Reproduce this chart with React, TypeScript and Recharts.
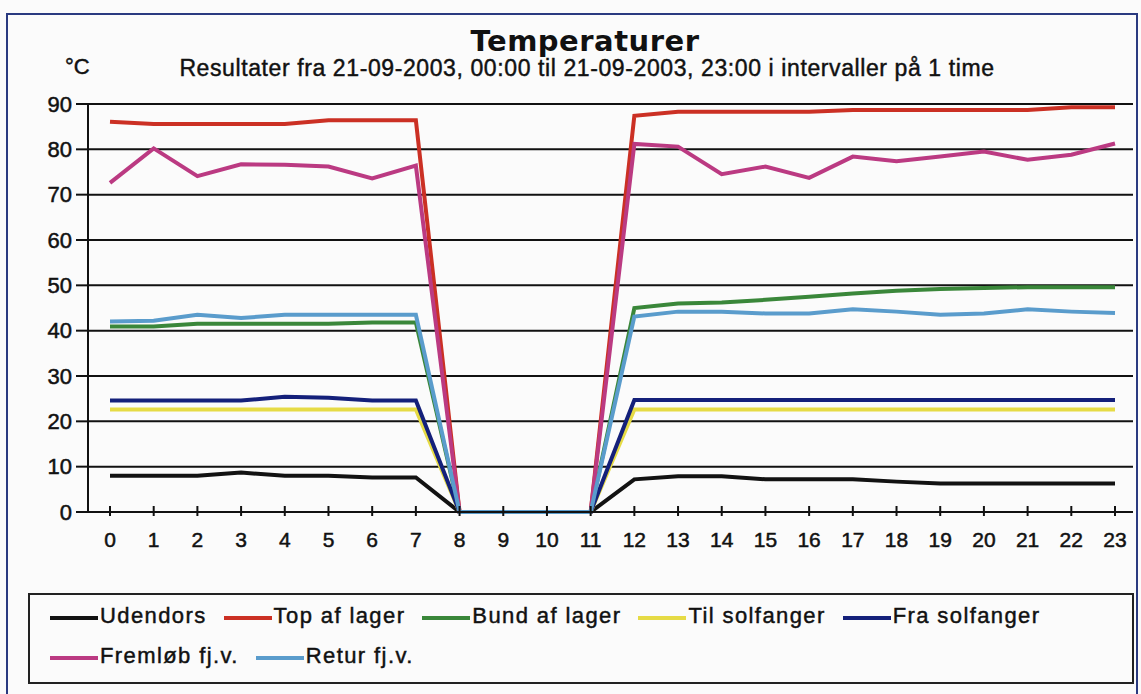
import React from 'react';
import { LineChart, Line, XAxis, YAxis, CartesianGrid } from 'recharts';

const hours = ['0','1','2','3','4','5','6','7','8','9','10','11','12','13','14','15','16','17','18','19','20','21','22','23'];

const udendors = [8, 8, 8, 8.7, 8, 8, 7.6, 7.6, 0, 0, 0, 0, 7.2, 7.9, 7.9, 7.2, 7.2, 7.2, 6.7, 6.3, 6.3, 6.3, 6.3, 6.3];
const topAfLager = [86.1, 85.6, 85.6, 85.6, 85.6, 86.4, 86.4, 86.4, 0, 0, 0, 0, 87.4, 88.3, 88.3, 88.3, 88.3, 88.7, 88.7, 88.7, 88.7, 88.7, 89.3, 89.3];
const bundAfLager = [40.9, 40.9, 41.5, 41.5, 41.5, 41.5, 41.8, 41.8, 0, 0, 0, 0, 45, 46, 46.2, 46.8, 47.5, 48.2, 48.8, 49.2, 49.4, 49.6, 49.6, 49.6];
const tilSolfanger = [22.6, 22.6, 22.6, 22.6, 22.6, 22.6, 22.6, 22.6, 0, 0, 0, 0, 22.6, 22.6, 22.6, 22.6, 22.6, 22.6, 22.6, 22.6, 22.6, 22.6, 22.6, 22.6];
const fraSolfanger = [24.6, 24.6, 24.6, 24.6, 25.4, 25.2, 24.6, 24.6, 0, 0, 0, 0, 24.7, 24.7, 24.7, 24.7, 24.7, 24.7, 24.7, 24.7, 24.7, 24.7, 24.7, 24.7];
const fremloeb = [72.6, 80.2, 74.1, 76.7, 76.6, 76.2, 73.6, 76.4, 0, 0, 0, 0, 81.2, 80.6, 74.5, 76.2, 73.7, 78.4, 77.4, 78.4, 79.5, 77.7, 78.8, 81.3];
const retur = [42, 42.2, 43.5, 42.8, 43.5, 43.5, 43.5, 43.5, 0, 0, 0, 0, 43.1, 44.2, 44.2, 43.8, 43.8, 44.7, 44.2, 43.5, 43.8, 44.7, 44.2, 43.9];

const yTicks = [0, 10, 20, 30, 40, 50, 60, 70, 80, 90];

const seriesNames = ['Udendors', 'Top af lager', 'Bund af lager', 'Til solfanger', 'Fra solfanger', 'Fremløb fj.v.', 'Retur fj.v.'];
const seriesKeys = ['udendors', 'top', 'bund', 'til', 'fra', 'frem', 'retur'];
const seriesColors = ['#121212', '#cb3024', '#3a873a', '#e6db45', '#14207a', '#bb3a82', '#5a9ccc'];
const seriesValues = [udendors, topAfLager, bundAfLager, tilSolfanger, fraSolfanger, fremloeb, retur];

const titleText = 'Temperaturer';
const subtitleText = 'Resultater fra 21-09-2003, 00:00 til 21-09-2003, 23:00 i intervaller på 1 time';
const unitText = '°C';

const data = hours.map((h, i) => {
  const row: Record<string, string | number> = { hour: h };
  seriesKeys.forEach((k, j) => {
    row[k] = seriesValues[j][i];
  });
  return row;
});

const FONT = '"Liberation Sans", Arial, sans-serif';

const XTick = (props: any) => {
  const { x, y, payload } = props;
  return (
    <g>
      <line x1={x} x2={x} y1={y - 26} y2={y - 16} stroke="#111" strokeWidth={2} />
      <text x={x} y={y} dy="0.71em" textAnchor="middle" fontSize={21} fill="#111" stroke="#111" strokeWidth={0.5} fontFamily={FONT}>
        {payload.value}
      </text>
    </g>
  );
};

const YTick = (props: any) => {
  const { x, y, payload } = props;
  return (
    <text x={x} y={y} dy="0.355em" textAnchor="end" fontSize={22} fill="#111" stroke="#111" strokeWidth={0.5} fontFamily={FONT}>
      {payload.value}
    </text>
  );
};

const textStroke = { WebkitTextStroke: '0.45px #111' } as React.CSSProperties;

export default function App() {
  return (
    <div
      style={{
        position: 'absolute',
        left: 0,
        top: 0,
        width: 1141,
        height: 694,
        overflow: 'hidden',
        background: '#fbfbfb',
        fontFamily: FONT,
      }}
    >
      <div
        style={{
          position: 'absolute',
          left: 6,
          top: 13,
          width: 1132,
          height: 700,
          borderLeft: '2px solid #2a3a80',
          borderTop: '2px solid #2a3a80',
          borderRight: '2px solid #2a3a80',
          boxSizing: 'border-box',
        }}
      />
      <div style={{ position: 'absolute', left: 0, top: 0 }}>
        <LineChart width={1141} height={694} data={data} margin={{ top: 104, right: 8, bottom: 132, left: 28 }}>
          <CartesianGrid vertical={false} stroke="#111" strokeWidth={2} />
          <XAxis
            dataKey="hour"
            interval={0}
            padding={{ left: 22, right: 18 }}
            height={50}
            tickSize={6}
            tickMargin={14}
            tickLine={false}
            axisLine={{ stroke: '#111', strokeWidth: 2 }}
            tick={<XTick />}
          />
          <YAxis
            domain={[0, 90]}
            ticks={yTicks}
            width={60}
            tickSize={12}
            tickMargin={4}
            axisLine={{ stroke: '#111', strokeWidth: 2 }}
            tickLine={{ stroke: '#111', strokeWidth: 2 }}
            tick={<YTick />}
          />
          <YAxis
            yAxisId="r"
            orientation="right"
            domain={[0, 90]}
            width={0}
            tick={false}
            tickLine={false}
            axisLine={{ stroke: '#111', strokeWidth: 2 }}
          />
          {seriesKeys.map((k, j) => (
            <Line
              key={k}
              type="linear"
              dataKey={k}
              name={seriesNames[j]}
              stroke={seriesColors[j]}
              strokeWidth={4}
              dot={false}
              activeDot={false}
              isAnimationActive={false}
            />
          ))}
        </LineChart>
      </div>
      <div
        style={{
          position: 'absolute',
          left: 585,
          top: 27,
          transform: 'translateX(-50%)',
          fontFamily: '"DejaVu Sans", sans-serif',
          fontWeight: 'bold',
          fontSize: 29,
          lineHeight: '29px',
          whiteSpace: 'nowrap',
          color: '#111',
          letterSpacing: 0.5,
        }}
      >
        {titleText}
      </div>
      <div
        style={{
          position: 'absolute',
          left: 587,
          top: 57,
          transform: 'translateX(-50%)',
          fontSize: 23,
          lineHeight: '23px',
          whiteSpace: 'nowrap',
          color: '#111',
          letterSpacing: 0.6,
          ...textStroke,
        }}
      >
        {subtitleText}
      </div>
      <div
        style={{
          position: 'absolute',
          left: 65,
          top: 56,
          fontSize: 22,
          lineHeight: '22px',
          whiteSpace: 'nowrap',
          color: '#111',
          ...textStroke,
        }}
      >
        {unitText}
      </div>
      <div
        style={{
          position: 'absolute',
          left: 28,
          top: 593,
          width: 1106,
          height: 91,
          border: '2px solid #222',
          boxSizing: 'border-box',
          paddingLeft: 20,
          paddingTop: 1,
          display: 'flex',
          flexWrap: 'wrap',
          alignContent: 'flex-start',
        }}
      >
        {seriesNames.map((n, j) => (
          <div
            key={n}
            style={{
              display: 'flex',
              alignItems: 'center',
              height: 40,
              marginRight: 17,
            }}
          >
            <div style={{ width: 48, height: 4, background: seriesColors[j], marginTop: 4, marginRight: 2 }} />
            <span style={{ fontSize: 22, lineHeight: '40px', letterSpacing: 1.4, color: '#111', whiteSpace: 'nowrap', ...textStroke }}>{n}</span>
          </div>
        ))}
      </div>
    </div>
  );
}
